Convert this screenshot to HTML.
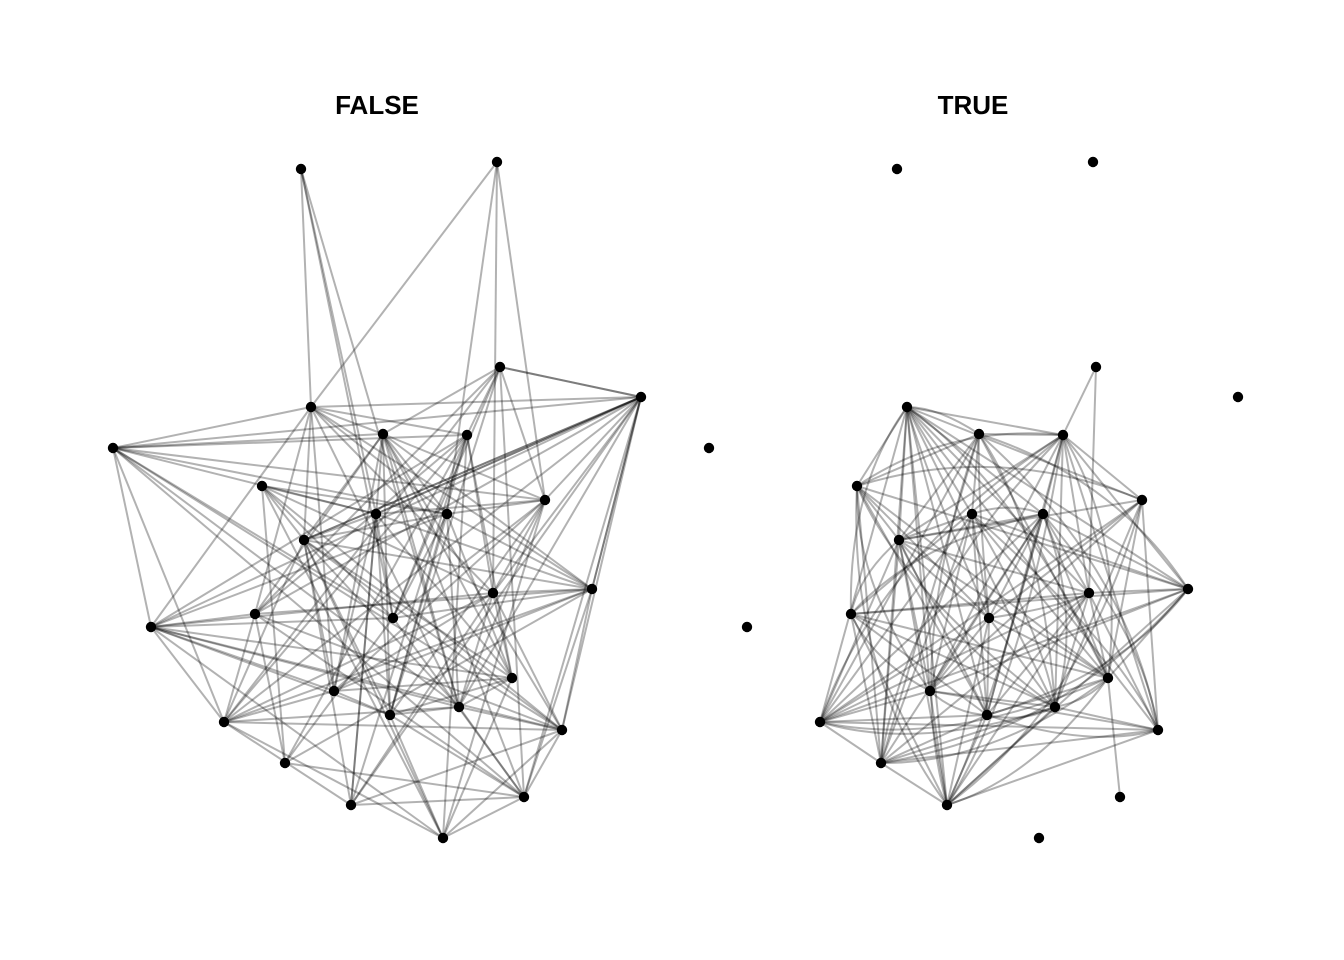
<!DOCTYPE html>
<html><head><meta charset="utf-8">
<style>
html,body{margin:0;padding:0;background:#fff;}
svg{display:block;}
text{font-family:"Liberation Sans",sans-serif;font-weight:bold;font-size:26px;}
</style></head>
<body>
<svg id="s" width="1344" height="960" viewBox="0 0 1344 960" xmlns="http://www.w3.org/2000/svg">
<rect width="1344" height="960" fill="#fff"/>
<text x="377" y="114" text-anchor="middle">FALSE</text>
<text x="973" y="114" text-anchor="middle">TRUE</text>
<g id="edges" stroke="#000" stroke-opacity="0.3" stroke-width="2" fill="none"></g>
<g id="nodes" fill="#000"></g>
</svg>
<script>
var F=[[301,169],[497,162],[500,367],[641,397],[311,407],[383,434],[467,435],[113,448],[262,486],[545,500],[376,514],[447,514],[304,540],[592,589],[493,593],[151,627],[255,614],[393,618],[512,678],[334,691],[390,715],[459,707],[224,722],[562,730],[285,763],[524,797],[351,805],[443,838]];
var Fiso=[[709,448],[747,627]];
var T=[[907,407],[979,434],[1063,435],[857,486],[1142,500],[972,514],[1043,514],[899,540],[1188,589],[1089,593],[851,614],[989,618],[1108,678],[930,691],[987,715],[1055,707],[820,722],[1158,730],[881,763],[947,805]];
var Tx=[[1096,367],[1120,797]];
var Tiso=[[897,169],[1093,162],[1238,397],[1039,838]];
var NS='http://www.w3.org/2000/svg';
var E=document.getElementById('edges'),N=document.getElementById('nodes');
var seed=7;function r(){seed=(seed*16807)%2147483647;return seed/2147483647;}
function line(a,b){var l=document.createElementNS(NS,'line');l.setAttribute('x1',a[0]);l.setAttribute('y1',a[1]);l.setAttribute('x2',b[0]);l.setAttribute('y2',b[1]);E.appendChild(l);}
function curve(a,b,cx,cy){
 var mx=(a[0]+b[0])/2,my=(a[1]+b[1])/2;
 var dx=mx-cx,dy=my-cy,d=Math.sqrt(dx*dx+dy*dy)||1;
 var L=Math.sqrt((a[0]-b[0])*(a[0]-b[0])+(a[1]-b[1])*(a[1]-b[1]));
 var k=L*0.18;
 var qx=mx+dx/d*k,qy=my+dy/d*k;
 var p=document.createElementNS(NS,'path');
 p.setAttribute('d','M'+a[0]+' '+a[1]+' Q'+qx+' '+qy+' '+b[0]+' '+b[1]);E.appendChild(p);}
function dot(p){var c=document.createElementNS(NS,'circle');c.setAttribute('cx',p[0]);c.setAttribute('cy',p[1]);c.setAttribute('r',5.2);N.appendChild(c);}
[4,10,21,17].forEach(function(i){line(F[0],F[i]);});
[4,9,14,11].forEach(function(i){line(F[1],F[i]);});
[7,4,2,12,10,13,23].forEach(function(i){line(F[3],F[i]);});
for(var i=2;i<F.length;i++)for(var j=i+1;j<F.length;j++){if(r()<0.5)line(F[i],F[j]);}
for(var i=0;i<T.length;i++)for(var j=i+1;j<T.length;j++){
 if(r()<0.78){ if(r()<0.28)curve(T[i],T[j],1000,600); else line(T[i],T[j]); }
}
line(Tx[0],T[2]);line(Tx[0],T[9]);line(Tx[1],T[12]);
F.concat(Fiso,T,Tx,Tiso).forEach(dot);
</script>
</body></html>
